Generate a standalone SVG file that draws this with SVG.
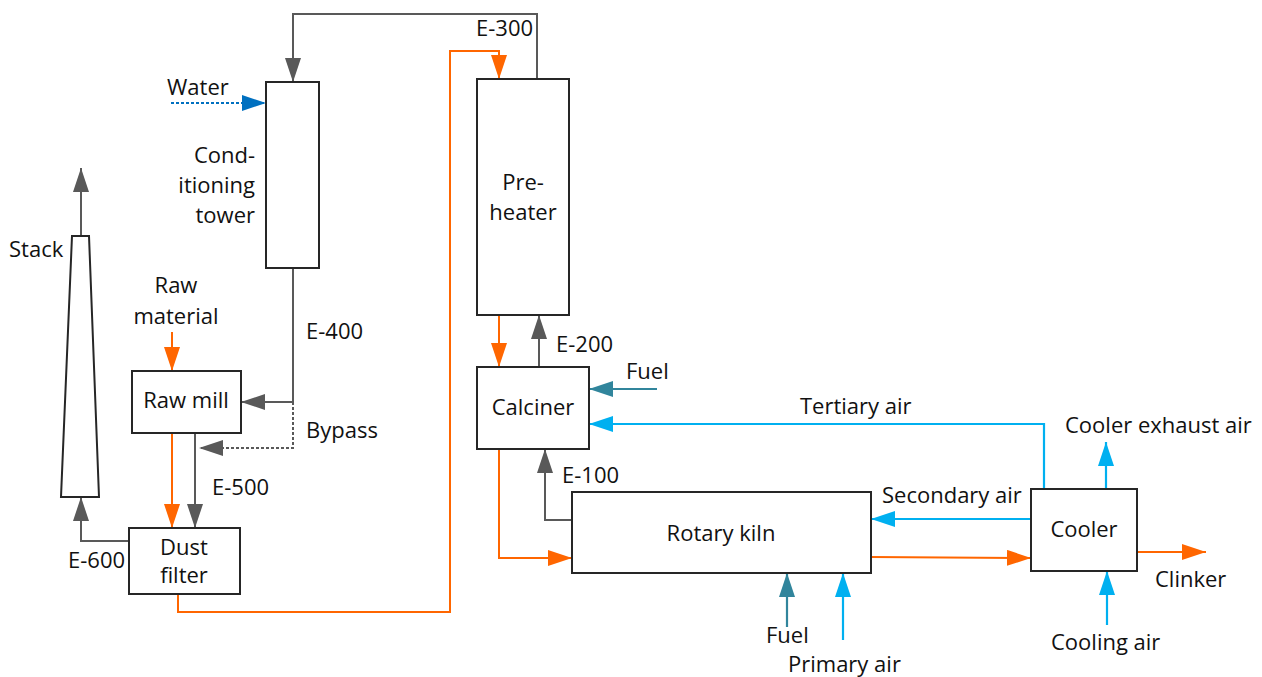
<svg xmlns="http://www.w3.org/2000/svg" width="1262" height="677" viewBox="0 0 1262 677">
<style>
.box{fill:#fff;stroke:#262626;stroke-width:2}
.t{font-family:"Open Sans","Noto Sans",sans-serif;font-size:22px;fill:#111}
.g{fill:none;stroke:#595959;stroke-width:2}
.o{fill:none;stroke:#FF6600;stroke-width:2}
.b{fill:none;stroke:#00B0F0;stroke-width:2.2}
.tl{fill:none;stroke:#31859C;stroke-width:2.2}
.w{fill:none;stroke:#0070C0;stroke-width:2;stroke-dasharray:3 2}
.gd{fill:none;stroke:#595959;stroke-width:2;stroke-dasharray:3 2}
</style>
<defs>
<marker id="mg" viewBox="0 0 24 16" refX="24" refY="8" markerWidth="24" markerHeight="16" markerUnits="userSpaceOnUse" orient="auto"><path d="M0,0 L24,8 L0,16 z" fill="#595959"/></marker>
<marker id="mo" viewBox="0 0 24 16" refX="24" refY="8" markerWidth="24" markerHeight="16" markerUnits="userSpaceOnUse" orient="auto"><path d="M0,0 L24,8 L0,16 z" fill="#FF6600"/></marker>
<marker id="mb" viewBox="0 0 24 16" refX="24" refY="8" markerWidth="24" markerHeight="16" markerUnits="userSpaceOnUse" orient="auto"><path d="M0,0 L24,8 L0,16 z" fill="#00B0F0"/></marker>
<marker id="mt" viewBox="0 0 24 16" refX="24" refY="8" markerWidth="24" markerHeight="16" markerUnits="userSpaceOnUse" orient="auto"><path d="M0,0 L24,8 L0,16 z" fill="#31859C"/></marker>
<marker id="mw" viewBox="0 0 24 16" refX="24" refY="8" markerWidth="24" markerHeight="16" markerUnits="userSpaceOnUse" orient="auto"><path d="M0,0 L24,8 L0,16 z" fill="#0070C0"/></marker>
</defs>

<g id="connectors">
<path class="g" d="M537,79 V14 H293 V82" marker-end="url(#mg)"/>
<path class="w" d="M171,103 H266" marker-end="url(#mw)"/>
<path class="g" d="M293,268 V402 H241" marker-end="url(#mg)"/>
<path class="gd" d="M293,402 V448 H199" marker-end="url(#mg)"/>
<path class="o" d="M172,332 V371" marker-end="url(#mo)"/>
<path class="o" d="M172,433 V528" marker-end="url(#mo)"/>
<path class="g" d="M195,433 V528" marker-end="url(#mg)"/>
<path class="g" d="M129,541 H81 V497" marker-end="url(#mg)"/>
<path class="g" d="M81,236 V168" marker-end="url(#mg)"/>
<path class="o" d="M178,594 V612 H450 V51 H499 V79" marker-end="url(#mo)"/>
<path class="o" d="M499,315 V367" marker-end="url(#mo)"/>
<path class="g" d="M539,367 V315" marker-end="url(#mg)"/>
<path class="tl" d="M657,389 H589" marker-end="url(#mt)"/>
<path class="b" d="M1044,489 V424 H589" marker-end="url(#mb)"/>
<path class="o" d="M499,449 V558 H572" marker-end="url(#mo)"/>
<path class="g" d="M572,520 H545 V449" marker-end="url(#mg)"/>
<path class="tl" d="M787,627 V573" marker-end="url(#mt)"/>
<path class="b" d="M843,640 V573" marker-end="url(#mb)"/>
<path class="b" d="M1031,519 H871" marker-end="url(#mb)"/>
<path class="o" d="M871,557 L1031,558" marker-end="url(#mo)"/>
<path class="b" d="M1106,489 V442" marker-end="url(#mb)"/>
<path class="o" d="M1137,552 H1206" marker-end="url(#mo)"/>
<path class="b" d="M1107,625 V571" marker-end="url(#mb)"/>
</g>

<g id="stack">
<path class="box" d="M72,236 H89 L99,497 H61 Z"/>
<text class="t" x="9" y="257">Stack</text>
</g>

<g id="conditioning-tower">
<rect class="box" x="266" y="82" width="53" height="186"/>
<text class="t" x="255" y="163" text-anchor="end">Cond-</text>
<text class="t" x="255" y="193" text-anchor="end">itioning</text>
<text class="t" x="255" y="223" text-anchor="end">tower</text>
</g>

<g id="raw-mill">
<rect class="box" x="132" y="371" width="109" height="62"/>
<text class="t" x="186" y="408" text-anchor="middle">Raw mill</text>
</g>

<g id="dust-filter">
<rect class="box" x="129" y="528" width="111" height="66"/>
<text class="t" x="184" y="555" text-anchor="middle">Dust</text>
<text class="t" x="184" y="583" text-anchor="middle">filter</text>
</g>

<g id="preheater">
<rect class="box" x="477" y="79" width="92" height="236"/>
<text class="t" x="523" y="190" text-anchor="middle">Pre-</text>
<text class="t" x="523" y="220" text-anchor="middle">heater</text>
</g>

<g id="calciner">
<rect class="box" x="477" y="367" width="112" height="82"/>
<text class="t" x="533" y="415" text-anchor="middle">Calciner</text>
</g>

<g id="rotary-kiln">
<rect class="box" x="572" y="492" width="299" height="81"/>
<text class="t" x="721" y="541" text-anchor="middle">Rotary kiln</text>
</g>

<g id="cooler">
<rect class="box" x="1031" y="489" width="106" height="82"/>
<text class="t" x="1084" y="537" text-anchor="middle">Cooler</text>
</g>

<g id="labels">
<text class="t" x="167" y="95">Water</text>
<text class="t" x="176" y="293" text-anchor="middle">Raw</text>
<text class="t" x="176" y="324" text-anchor="middle">material</text>
<text class="t" x="306" y="339">E-400</text>
<text class="t" x="306" y="438">Bypass</text>
<text class="t" x="212" y="495">E-500</text>
<text class="t" x="68" y="568">E-600</text>
<text class="t" x="476" y="36">E-300</text>
<text class="t" x="556" y="352">E-200</text>
<text class="t" x="626" y="379">Fuel</text>
<text class="t" x="800" y="414">Tertiary air</text>
<text class="t" x="562" y="483">E-100</text>
<text class="t" x="882" y="503">Secondary air</text>
<text class="t" x="1065" y="433">Cooler exhaust air</text>
<text class="t" x="1155" y="587">Clinker</text>
<text class="t" x="766" y="643">Fuel</text>
<text class="t" x="788" y="672">Primary air</text>
<text class="t" x="1051" y="650">Cooling air</text>
</g>
</svg>
